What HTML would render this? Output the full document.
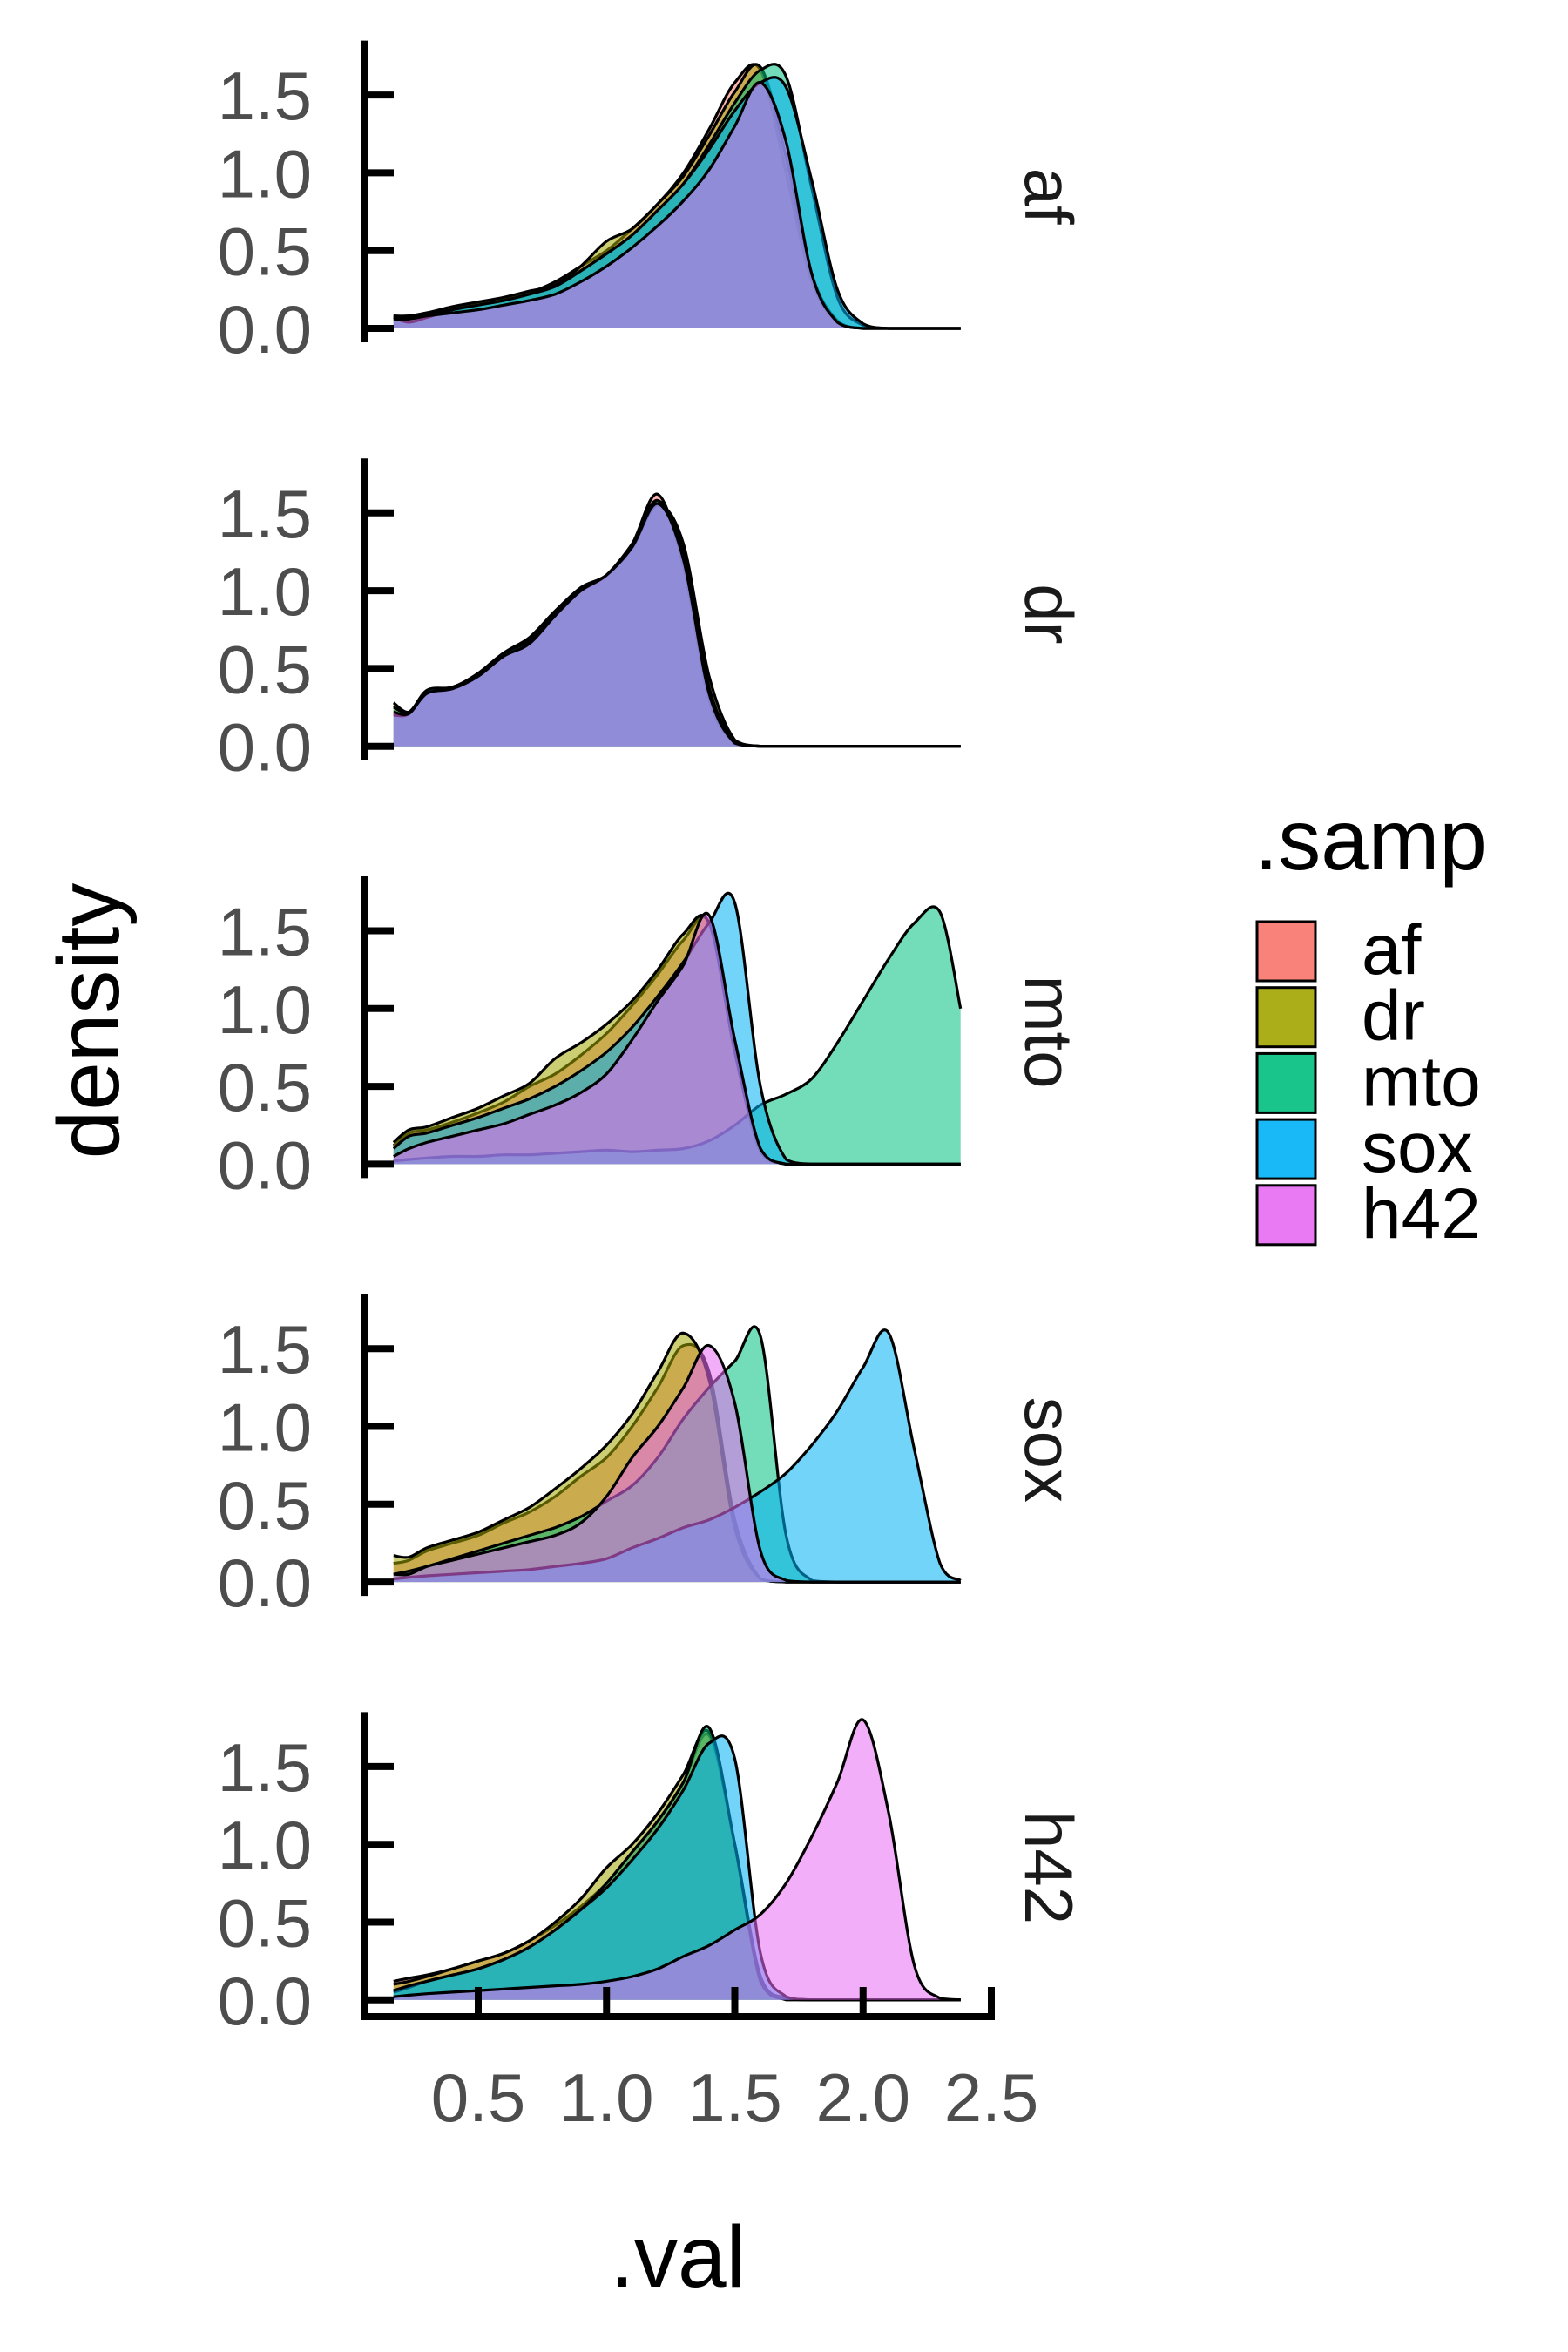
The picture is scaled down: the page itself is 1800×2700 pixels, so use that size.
<!DOCTYPE html>
<html><head><meta charset="utf-8">
<style>
html,body{margin:0;padding:0;background:#fff;}
svg{display:block;font-family:"Liberation Sans",sans-serif;}
</style></head>
<body>
<svg id="chart" width="1800" height="2700" viewBox="0 0 1800 2700" xmlns="http://www.w3.org/2000/svg">
<g id="panels"></g>
<text x="0" y="0" transform="translate(136,1172) rotate(-90)" text-anchor="middle" font-size="100" fill="#000">density</text>
<text x="778" y="2625" text-anchor="middle" font-size="100" fill="#000">.val</text>
<g id="legend">
<text x="1440" y="998" font-size="98" fill="#000">.samp</text>
</g>
</svg>
<script>
const facets = ["af","dr","mto","sox","h42"];
const samples = ["af","dr","mto","sox","h42"];
const colors = ["#F8766D","#A3A500","#00BF7D","#00B0F6","#E76BF3"];
const grid = [0.17,0.23,0.3,0.4,0.5,0.6,0.7,0.8,0.9,1.0,1.1,1.2,1.3,1.4,1.5,1.6,1.7,1.8,1.9,2.0,2.1,2.2,2.3,2.38];
const yTicks = [0,0.5,1.0,1.5];
const yTickLabels = ["0.0","0.5","1.0","1.5"];
const xTicks = [0.5,1.0,1.5,2.0,2.5];
const xTickLabels = ["0.5","1.0","1.5","2.0","2.5"];
// panel af
const afPanel_af  = [0.08,0.08,0.1,0.13,0.16,0.19,0.23,0.3,0.4,0.5,0.64,0.8,1.0,1.28,1.58,1.66,1.0,0.3,0.04,0,0,0,0,0];
const afPanel_dr  = [0.08,0.08,0.1,0.14,0.17,0.2,0.24,0.28,0.4,0.56,0.64,0.8,0.98,1.24,1.52,1.68,1.1,0.35,0.05,0,0,0,0,0];
const afPanel_mto = [0.07,0.07,0.09,0.12,0.15,0.18,0.22,0.27,0.37,0.48,0.6,0.76,0.93,1.18,1.45,1.66,1.62,0.9,0.2,0.02,0,0,0,0];
const afPanel_sox = [0.07,0.04,0.07,0.12,0.15,0.18,0.22,0.27,0.37,0.48,0.6,0.76,0.93,1.15,1.4,1.58,1.55,0.95,0.25,0.03,0,0,0,0];
const afPanel_h42 = [0.06,0.06,0.08,0.1,0.12,0.15,0.18,0.22,0.3,0.4,0.52,0.66,0.82,1.02,1.3,1.58,1.2,0.35,0.04,0,0,0,0,0];
// panel dr
const drPanel_af  = [0.26,0.22,0.35,0.37,0.45,0.6,0.68,0.85,1.02,1.1,1.3,1.62,1.15,0.3,0.02,0,0,0,0,0,0,0,0,0];
const drPanel_dr  = [0.28,0.22,0.34,0.37,0.45,0.6,0.7,0.87,1.02,1.1,1.28,1.55,1.3,0.45,0.04,0,0,0,0,0,0,0,0,0];
const drPanel_mto = [0.25,0.22,0.35,0.38,0.46,0.58,0.68,0.86,1.0,1.1,1.3,1.58,1.22,0.36,0.03,0,0,0,0,0,0,0,0,0];
const drPanel_sox = [0.2,0.21,0.36,0.38,0.47,0.6,0.68,0.85,1.0,1.1,1.3,1.56,1.25,0.38,0.03,0,0,0,0,0,0,0,0,0];
const drPanel_h42 = [0.22,0.21,0.34,0.37,0.45,0.58,0.66,0.84,1.0,1.1,1.28,1.56,1.2,0.34,0.02,0,0,0,0,0,0,0,0,0];
// panel mto
const mtoPanel_af  = [0.12,0.2,0.22,0.27,0.33,0.4,0.5,0.58,0.7,0.84,1.02,1.22,1.44,1.55,0.75,0.08,0,0,0,0,0,0,0,0];
const mtoPanel_dr  = [0.14,0.22,0.24,0.3,0.36,0.44,0.52,0.68,0.78,0.9,1.05,1.25,1.48,1.55,0.72,0.08,0,0,0,0,0,0,0,0];
const mtoPanel_mto = [0.02,0.03,0.04,0.05,0.05,0.06,0.06,0.07,0.08,0.09,0.08,0.09,0.1,0.15,0.25,0.38,0.45,0.55,0.78,1.05,1.32,1.55,1.62,1.0];
const mtoPanel_sox = [0.1,0.18,0.2,0.25,0.3,0.36,0.42,0.5,0.6,0.72,0.88,1.08,1.3,1.55,1.68,0.5,0.03,0,0,0,0,0,0,0];
const mtoPanel_h42 = [0.05,0.1,0.14,0.18,0.22,0.26,0.32,0.38,0.46,0.58,0.8,1.05,1.28,1.6,0.8,0.1,0,0,0,0,0,0,0,0];
// panel sox
const soxPanel_af  = [0.12,0.14,0.2,0.25,0.3,0.38,0.45,0.55,0.68,0.8,1.0,1.25,1.52,1.35,0.4,0.02,0,0,0,0,0,0,0,0];
const soxPanel_dr  = [0.17,0.16,0.22,0.27,0.32,0.4,0.48,0.6,0.73,0.88,1.08,1.35,1.6,1.3,0.35,0.02,0,0,0,0,0,0,0,0];
const soxPanel_mto = [0.05,0.07,0.1,0.15,0.2,0.25,0.3,0.35,0.42,0.52,0.62,0.8,1.05,1.25,1.42,1.58,0.3,0.01,0,0,0,0,0,0];
const soxPanel_sox = [0.02,0.03,0.04,0.05,0.06,0.07,0.08,0.1,0.12,0.15,0.22,0.28,0.35,0.4,0.48,0.58,0.7,0.88,1.1,1.38,1.6,0.85,0.12,0.01];
const soxPanel_h42 = [0.05,0.05,0.1,0.14,0.18,0.22,0.26,0.3,0.38,0.55,0.8,1.0,1.25,1.52,1.15,0.2,0.01,0,0,0,0,0,0,0];
// panel h42
const h42Panel_af  = [0.12,0.14,0.16,0.2,0.25,0.3,0.38,0.48,0.6,0.75,0.95,1.15,1.4,1.7,1.0,0.15,0.01,0,0,0,0,0,0,0];
const h42Panel_dr  = [0.1,0.12,0.15,0.2,0.25,0.3,0.38,0.5,0.65,0.85,1.0,1.2,1.45,1.72,1.0,0.15,0.01,0,0,0,0,0,0,0];
const h42Panel_mto = [0.05,0.08,0.12,0.16,0.2,0.26,0.34,0.45,0.58,0.75,0.95,1.15,1.4,1.75,1.0,0.12,0,0,0,0,0,0,0,0];
const h42Panel_sox = [0.06,0.09,0.12,0.16,0.2,0.26,0.34,0.45,0.58,0.72,0.9,1.1,1.35,1.65,1.55,0.3,0.02,0,0,0,0,0,0,0];
const h42Panel_h42 = [0.02,0.03,0.04,0.05,0.06,0.07,0.08,0.09,0.1,0.12,0.15,0.2,0.28,0.35,0.45,0.55,0.75,1.05,1.4,1.8,1.2,0.22,0.01,0];

const panelSeries = [
  [afPanel_af,afPanel_dr,afPanel_mto,afPanel_sox,afPanel_h42],
  [drPanel_af,drPanel_dr,drPanel_mto,drPanel_sox,drPanel_h42],
  [mtoPanel_af,mtoPanel_dr,mtoPanel_mto,mtoPanel_sox,mtoPanel_h42],
  [soxPanel_af,soxPanel_dr,soxPanel_mto,soxPanel_sox,soxPanel_h42],
  [h42Panel_af,h42Panel_dr,h42Panel_mto,h42Panel_sox,h42Panel_h42]
];

const NS = "http://www.w3.org/2000/svg";
const xScale = v => 549 + (v - 0.5) * 294.5;
const zeroY = i => 377 + 479.7 * i;
const yScale = (i, d) => zeroY(i) - d * 178.6;
const axisX = 418;
const xAxisY = 2315;

function mk(tag, attrs, parent) {
  const e = document.createElementNS(NS, tag);
  for (const k in attrs) e.setAttribute(k, attrs[k]);
  parent.appendChild(e);
  return e;
}
function smoothPath(pts) {
  let d = "M" + pts[0][0].toFixed(1) + "," + pts[0][1].toFixed(1);
  for (let i = 0; i < pts.length - 1; i++) {
    const p0 = pts[Math.max(0, i - 1)], p1 = pts[i], p2 = pts[i + 1], p3 = pts[Math.min(pts.length - 1, i + 2)];
    const t = 0.5 / 3;
    let c1x = p1[0] + (p2[0] - p0[0]) * t, c1y = p1[1] + (p2[1] - p0[1]) * t;
    let c2x = p2[0] - (p3[0] - p1[0]) * t, c2y = p2[1] - (p3[1] - p1[1]) * t;
    c1y = Math.min(c1y, p1[2]); c2y = Math.min(c2y, p1[2]);
    d += " C" + c1x.toFixed(1) + "," + c1y.toFixed(1) + " " + c2x.toFixed(1) + "," + c2y.toFixed(1) + " " + p2[0].toFixed(1) + "," + p2[1].toFixed(1);
  }
  return d;
}

const root = document.getElementById("panels");
facets.forEach((f, i) => {
  const g = mk("g", {}, root);
  
  
  const z = zeroY(i);
  panelSeries[i].forEach((vals, s) => {
    const pts = vals.map((v, k) => [xScale(grid[k]), yScale(i, v), z]);
    const line = smoothPath(pts);
    const x0 = xScale(grid[0]), x1 = xScale(grid[grid.length - 1]);
    const area = mk("path", {d: line + " L" + x1.toFixed(1) + "," + z + " L" + x0.toFixed(1) + "," + z + " Z", fill: colors[s], "fill-opacity": 0.55, stroke: "none"}, g);
    
    
    const ln = mk("path", {d: line, fill: "none", stroke: "#000", "stroke-width": 3.2, "stroke-linejoin": "round"}, g);
    
    
  });
  const top = z - 1.85 * 178.6;
  const bottom = i === 4 ? xAxisY + 4 : z + 16;
  const ya = mk("line", {x1: axisX, x2: axisX, y1: top, y2: bottom, stroke: "#000", "stroke-width": 8}, g);
  
  
  yTicks.forEach((t, k) => {
    const y = yScale(i, t);
    const tk = mk("line", {x1: axisX, x2: axisX + 34, y1: y, y2: y, stroke: "#000", "stroke-width": 8}, g);
    
    
    const tl = mk("text", {x: 358, y: y + 28, "text-anchor": "end", "font-size": 78, fill: "#4d4d4d"}, g);
    tl.textContent = yTickLabels[k];
    
    
  });
  const cy = z - 0.85 * 178.6;
  const st = mk("text", {x: 0, y: 0, transform: "translate(1177," + cy.toFixed(1) + ") rotate(90)", "text-anchor": "middle", "font-size": 78, fill: "#1a1a1a"}, g);
  st.textContent = f;
  
  
});

const xa = mk("line", {x1: axisX - 4, x2: xScale(2.5) + 4, y1: xAxisY, y2: xAxisY, stroke: "#000", "stroke-width": 8}, root);


xTicks.forEach((t, k) => {
  const x = xScale(t);
  const tk = mk("line", {x1: x, x2: x, y1: xAxisY, y2: xAxisY - 34, stroke: "#000", "stroke-width": 8}, root);
  
  
  const tl = mk("text", {x: x, y: 2435, "text-anchor": "middle", "font-size": 78, fill: "#4d4d4d"}, root);
  tl.textContent = xTickLabels[k];
  
  
});

const lg = document.getElementById("legend");
samples.forEach((s, k) => {
  const y = 1058 + k * 75.7;
  const r = mk("rect", {x: 1443, y: y, width: 67, height: 68, fill: colors[k], "fill-opacity": 0.9, stroke: "#000", "stroke-width": 3}, lg);
  
  
  const t = mk("text", {x: 1563, y: y + 60, "font-size": 82, fill: "#000"}, lg);
  t.textContent = s;
  
  
});
</script>
</body></html>
